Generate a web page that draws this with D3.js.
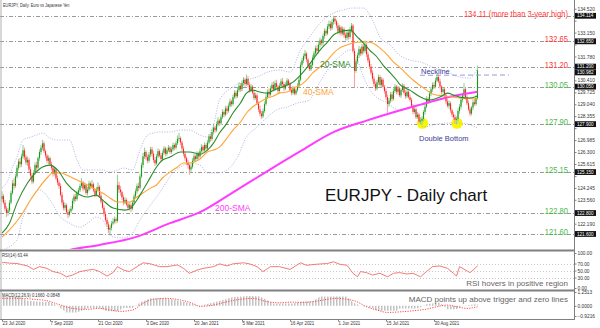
<!DOCTYPE html>
<html>
<head>
<meta charset="utf-8">
<script src="https://cdn.jsdelivr.net/npm/d3@7"></script>
<style>
body { margin: 0; background: #fff; }
svg { display: block; font-family: "Liberation Sans", Arial, sans-serif; }
</style>
</head>
<body>
<svg id="chart" width="600" height="328"></svg>
<script>
// ---- data ----
var firstOpen = 123.60;
var closes = [123.77,123.40,123.05,122.80,122.95,123.40,123.95,124.50,124.35,124.90,
125.40,125.75,125.60,126.05,126.40,126.00,125.70,125.85,125.30,124.95,
124.60,125.10,125.55,125.40,125.95,126.30,126.55,126.80,126.35,126.10,
125.80,125.95,125.60,125.40,125.05,125.30,124.80,124.55,124.35,123.85,
123.40,123.10,123.25,122.85,122.70,122.90,123.05,123.50,123.75,123.60,
123.95,124.10,124.35,124.55,124.20,124.40,123.95,124.15,124.50,124.30,
124.45,124.10,123.85,124.15,124.30,123.80,123.45,123.10,122.75,122.40,
122.15,121.85,121.95,122.20,122.30,122.45,122.35,124.40,124.15,124.00,
123.70,123.40,123.55,123.30,123.10,123.25,123.05,123.40,123.75,124.05,
124.35,124.25,124.90,125.55,126.05,126.30,126.00,125.80,126.15,126.45,
126.20,125.85,125.65,126.05,126.35,126.10,125.90,126.25,126.50,126.20,
126.40,126.55,126.30,126.45,126.70,126.55,126.80,127.05,127.10,126.85,
126.50,126.20,125.95,125.70,125.55,125.30,125.45,125.80,126.05,125.90,
126.20,126.05,126.35,126.60,126.40,126.70,126.50,126.85,127.20,127.05,
127.45,127.70,127.55,127.90,128.10,127.95,128.30,128.60,128.45,128.80,
128.65,128.95,129.20,129.05,129.45,129.70,129.50,129.85,130.10,129.90,
130.25,130.45,130.20,130.50,130.15,129.85,130.05,129.70,129.40,129.55,
129.10,128.75,128.50,128.35,128.65,129.05,129.45,129.75,129.60,129.95,
130.15,129.90,130.25,130.05,129.80,130.10,130.35,130.20,129.95,130.15,
130.40,130.20,129.85,129.70,129.95,129.65,129.85,130.10,130.45,131.30,
131.55,131.80,131.95,131.60,131.25,131.05,131.30,131.70,131.95,132.25,
132.10,132.45,132.70,132.55,132.95,133.25,133.10,133.50,133.65,133.40,
133.75,133.95,133.80,133.55,133.20,133.45,133.10,133.35,133.00,132.85,
133.15,132.90,133.30,133.55,132.10,130.95,131.50,131.85,132.20,131.95,
132.35,132.10,132.45,131.90,131.55,131.20,130.85,130.50,130.20,129.95,
130.30,130.60,130.15,130.45,130.05,129.80,129.45,129.05,129.25,129.60,
129.35,129.80,130.05,129.75,129.95,129.55,129.85,130.10,129.70,129.50,
129.75,129.45,129.30,128.95,128.60,128.75,128.30,128.45,128.05,128.10,
128.20,128.60,128.90,129.35,129.20,129.65,129.90,130.15,130.05,130.40,
130.60,130.35,130.05,129.75,129.90,129.55,129.20,128.95,129.10,128.70,
128.45,128.30,128.15,128.20,128.65,128.90,129.30,129.55,129.90,129.45,
129.10,128.75,128.50,128.85,129.15,129.05,129.40,130.98];
var highs = [124.05,123.90,123.55,123.20,123.10,123.55,124.10,124.70,124.80,125.05,
125.55,125.90,125.95,126.20,126.70,126.55,126.15,126.05,125.95,125.45,
125.10,125.25,125.70,125.75,126.05,126.45,126.70,127.00,126.90,126.45,
126.20,126.10,126.05,125.75,125.55,125.45,125.40,124.95,124.70,124.50,
124.00,123.55,123.40,123.35,123.00,123.05,123.20,123.65,123.90,123.90,
124.05,124.25,124.50,124.80,124.65,124.55,124.50,124.30,124.65,124.60,
124.70,124.55,124.20,124.30,124.55,124.40,123.95,123.60,123.25,122.90,
122.55,122.30,122.10,122.35,122.50,122.60,122.55,125.00,124.60,124.35,
124.10,123.85,123.70,123.65,123.45,123.40,123.35,123.50,123.90,124.20,
124.50,124.55,125.05,125.70,126.25,126.55,126.40,126.15,126.30,126.60,
126.60,126.35,126.00,126.20,126.50,126.45,126.25,126.40,126.65,126.60,
126.55,126.70,126.65,126.60,126.85,126.80,126.95,127.25,127.40,127.20,
126.95,126.65,126.35,126.05,125.85,125.65,125.60,125.95,126.20,126.15,
126.35,126.30,126.50,126.75,126.70,126.85,126.80,127.00,127.35,127.35,
127.60,127.85,127.80,128.05,128.30,128.20,128.45,128.75,128.70,128.95,
128.95,129.10,129.35,129.30,129.60,129.85,129.80,130.00,130.30,130.25,
130.40,130.60,130.55,130.75,130.65,130.30,130.20,130.15,129.85,129.70,
129.65,129.20,128.95,128.65,128.80,129.20,129.60,129.90,129.95,130.10,
130.30,130.35,130.40,130.45,130.15,130.25,130.50,130.55,130.30,130.30,
130.55,130.50,130.30,129.95,130.10,130.05,129.95,130.25,130.60,131.45,
131.70,131.95,132.15,132.05,131.70,131.40,131.45,131.85,132.10,132.40,
132.45,132.60,132.85,132.80,133.10,133.40,133.35,133.65,133.85,133.80,
133.90,134.11,134.05,133.90,133.70,133.60,133.55,133.50,133.45,133.15,
133.30,133.25,133.45,133.70,133.65,132.25,131.65,132.00,132.40,132.30,
132.50,132.50,132.70,132.55,132.05,131.70,131.35,131.00,130.65,130.35,
130.45,130.75,130.70,130.60,130.55,130.15,129.95,129.60,129.40,129.75,
129.75,129.95,130.20,130.15,130.10,130.05,129.95,130.25,130.20,129.85,
129.90,129.85,129.60,129.40,129.05,128.90,128.85,128.60,128.55,128.30,
128.35,128.70,129.05,129.50,129.45,129.80,130.05,130.30,130.30,130.55,
130.80,130.75,130.50,130.15,130.05,130.00,129.65,129.35,129.25,129.20,
128.80,128.60,128.45,128.35,128.80,129.05,129.40,129.70,130.25,130.00,
129.55,129.25,128.90,128.95,129.30,129.35,129.55,131.25];
var lows = [123.45,123.30,122.90,122.57,122.65,122.85,123.30,123.85,124.15,124.25,
124.80,125.25,125.40,125.45,125.90,125.85,125.55,125.50,125.15,124.80,
124.45,124.50,125.00,125.20,125.30,125.80,126.15,126.40,126.25,125.95,
125.65,125.60,125.50,125.25,124.90,124.95,124.70,124.40,124.20,123.75,
123.25,122.95,122.95,122.75,122.50,122.60,122.80,122.95,123.35,123.45,
123.50,123.80,124.00,124.25,124.05,124.10,123.85,123.80,124.05,124.15,
124.20,124.00,123.70,123.75,124.05,123.70,123.35,123.00,122.60,122.30,
122.00,121.65,121.60,121.80,122.10,122.20,122.20,122.25,123.95,123.80,
123.55,123.25,123.30,123.20,122.95,122.95,122.85,122.95,123.30,123.65,
123.90,124.05,124.15,124.80,125.40,125.90,125.85,125.65,125.70,126.00,
126.05,125.70,125.50,125.55,125.95,126.00,125.75,125.80,126.15,126.05,
126.10,126.30,126.20,126.20,126.35,126.40,126.45,126.70,126.90,126.70,
126.35,126.05,125.80,125.55,125.35,125.00,125.15,125.35,125.70,125.75,
125.80,125.90,125.95,126.25,126.25,126.30,126.35,126.40,126.75,126.90,
126.95,127.30,127.40,127.45,127.75,127.80,127.85,128.20,128.30,128.35,
128.45,128.55,128.85,128.90,128.95,129.35,129.35,129.40,129.75,129.75,
129.80,130.10,130.05,130.10,130.05,129.70,129.75,129.60,129.25,129.30,
129.00,128.60,128.35,128.20,128.25,128.55,128.95,129.35,129.45,129.50,
129.80,129.75,129.80,129.95,129.65,129.70,130.00,130.05,129.80,129.85,
130.05,130.10,129.75,129.55,129.60,129.55,129.55,129.75,130.00,130.35,
131.15,131.40,131.65,131.45,131.10,130.95,130.95,131.20,131.55,131.85,
131.95,131.95,132.30,132.40,132.40,132.80,132.95,133.00,133.35,133.25,
133.30,133.60,133.65,133.40,133.05,133.05,132.95,133.00,132.85,132.70,
132.70,132.75,132.80,133.15,132.00,130.00,130.85,131.35,131.70,131.80,
131.85,131.95,132.00,131.75,131.40,131.05,130.70,130.35,130.05,129.80,
129.85,130.15,130.05,130.00,129.95,129.65,129.30,128.55,128.90,129.10,
129.20,129.25,129.70,129.60,129.60,129.45,129.40,129.75,129.60,129.35,
129.40,129.35,129.20,128.85,128.45,128.50,128.20,128.20,127.95,127.90,
127.88,128.05,128.45,128.80,129.05,129.10,129.50,129.75,129.90,129.95,
130.30,130.25,129.95,129.60,129.65,129.45,129.05,128.85,128.80,128.55,
128.30,128.15,127.95,127.88,128.05,128.50,128.75,129.15,129.40,129.30,
129.00,128.65,128.35,128.40,128.70,128.95,128.95,129.30];

var sma20Bars = [0,5,10,17,21,27,32,37,43,50,57,63,67,74,82,85,90,94,99,103,107,112,119,125,132,137,141,145,150,154,159,163,167,172,177,181,185,190,194,199,203,207,212,217,221,225,232,237,241,245,250,254,259,263,265,272,279,285,292,297,301,305,312,317];
var sma20Vals = [121.65,122.22,123.37,124.52,124.98,125.44,125.55,125.27,124.52,123.95,123.72,123.83,123.55,123.09,122.97,123.03,123.55,124.12,124.86,125.44,125.84,126.01,126.30,126.30,126.18,126.41,126.81,127.39,127.96,128.54,129.11,129.68,129.85,129.74,129.68,129.85,129.97,130.14,130.31,130.71,131.11,131.57,132.15,132.61,133.01,133.18,133.29,132.89,132.55,132.15,131.75,131.29,130.83,130.43,130.20,129.85,129.45,129.28,129.45,129.68,129.57,129.45,129.40,129.51];
var sma40Bars = [0,5,12,19,25,30,34,39,43,50,57,63,67,72,77,81,85,90,94,99,103,107,112,117,121,125,132,137,141,145,150,154,159,163,167,172,177,181,185,190,194,199,203,207,212,217,221,225,230,234,239,243,247,252,257,261,265,274,283,287,295,305,317];
var sma40Vals = [121.42,121.83,122.57,123.55,124.29,124.81,125.10,125.10,124.98,124.69,124.41,124.12,123.95,123.66,123.43,123.43,123.43,123.72,123.95,124.23,124.41,124.81,125.15,125.44,125.67,125.67,125.90,126.30,126.41,126.58,127.10,127.56,128.02,128.54,128.88,129.17,129.40,129.51,129.68,129.74,129.97,130.14,130.43,130.83,131.17,131.57,131.97,132.26,132.44,132.55,132.61,132.61,132.55,132.26,131.86,131.46,131.17,130.43,129.85,129.63,129.51,129.40,129.34];
var sma200Bars = [39,45,65,89,112,132,154,177,199,221,243,265,279,292,305,317];
var sma200Vals = [120.56,120.68,120.97,121.42,122.22,122.85,123.99,125.21,126.35,127.44,128.10,128.68,129.02,129.33,129.58,129.76];
var bbUpBars = [0,4,7,10,12,14,19,23,27,32,37,41,45,50,54,61,67,72,77,81,87,92,97,101,105,112,119,125,132,137,141,145,154,163,170,177,185,192,199,205,214,221,227,234,241,247,252,259,265,272,279,287,297,305,312,317];
var bbUpVals = [124.23,124.69,125.44,126.01,126.58,126.99,127.16,127.27,127.39,127.10,126.99,126.99,126.99,125.84,125.27,125.27,125.27,125.15,125.27,125.38,125.27,126.41,127.27,127.39,127.45,127.45,127.56,127.56,127.27,127.16,127.85,129.28,130.03,130.43,130.60,130.89,131.00,130.89,132.15,132.89,133.87,134.27,134.44,134.56,134.56,133.87,132.89,132.43,131.86,131.57,131.46,131.17,130.89,130.60,130.54,131.11];
var bbLoBars = [0,10,14,19,25,32,39,45,52,57,63,67,74,81,87,92,99,105,114,119,125,132,137,143,150,157,163,170,177,183,190,197,205,210,217,225,232,237,241,247,257,265,274,281,287,297,307,317];
var bbLoVals = [120.68,121.25,122.57,123.55,124.12,123.55,122.57,122.22,121.99,122.22,122.57,122.40,121.42,121.37,121.65,122.40,123.26,123.95,125.10,125.44,125.67,125.55,125.10,125.10,125.27,126.01,127.16,127.73,128.31,128.71,128.88,129.11,129.28,130.03,131.00,131.75,132.15,131.57,130.60,129.68,129.11,128.71,128.88,127.73,127.85,127.96,127.96,127.68];

var rsiBars = [0,1,5,10,12,17,21,25,30,34,39,43,47,52,57,61,65,70,74,77,81,85,90,94,99,105,110,117,121,125,130,134,141,145,150,154,161,165,170,174,179,185,192,199,203,210,217,221,225,230,234,237,239,243,247,252,257,261,265,270,274,279,283,287,292,297,301,303,305,310,312,314,317];
var rsiVals = [72,73,71,70,68,63,53,61,56,47,42,32,37,47,51,53,47,34,44,61,51,47,61,72,69,61,61,66,56,42,51,56,61,69,63,69,72,69,61,47,61,61,53,72,65,68,70,75,68,65,42,32,47,44,37,42,32,42,44,40,42,32,47,61,63,56,42,34,61,49,44,51,63.44];
var macdBars = [0,12,17,25,32,37,41,43,50,57,65,70,77,81,87,92,99,110,121,132,143,154,165,172,181,194,199,207,212,230,234,239,247,250,263,265,277,283,292,297,303,307,317];
var macdVals = [0.82,0.80,0.45,0.37,0.35,0.00,-0.40,-0.60,-0.60,-0.23,-0.20,-0.50,-0.50,-0.20,-0.20,0.30,0.68,0.68,0.37,0.00,0.37,0.80,0.90,0.85,0.20,0.20,0.40,0.40,0.85,0.85,0.30,0.00,-0.20,-0.45,-0.45,-0.25,-0.25,0.15,0.30,-0.30,-0.30,0.00,0.166];
var sigBars = [0,12,21,30,39,47,57,65,72,79,87,94,101,110,119,127,132,141,150,159,167,177,185,194,199,210,217,223,230,236,243,250,257,265,274,283,290,297,303,310,317];
var sigVals = [0.68,0.68,0.59,0.46,0.07,-0.23,-0.32,-0.23,-0.38,-0.50,-0.38,0.23,0.59,0.68,0.52,0.23,-0.05,0.07,0.37,0.59,0.68,0.37,0.28,0.34,0.30,0.43,0.59,0.68,0.59,0.40,-0.08,-0.38,-0.60,-0.55,-0.45,-0.30,-0.08,0.07,-0.08,-0.23,-0.085];

var levels = [134.11, 132.65, 131.20, 130.05, 127.90, 125.15, 122.80, 121.60];
var levelText = ["134.11 (more than 3-year high)", "132.65", "131.20", "130.05", "127.90", "125.15", "122.80", "121.60"];
var priceTicks = [134.520,133.835,133.150,132.465,131.780,131.095,130.410,129.725,129.040,128.355,127.670,126.985,126.300,125.615,124.930,124.245,123.560,122.875,122.190,121.505];
var boxValues = [134.114,132.650,131.200,130.982,130.050,127.900,125.150,122.800,121.600];
var rsiTicks = [100, 70, 50, 30, 0];
var macdTicks = [1.2513, 0, -0.9216];
var dateBars = [0,32,64,96,128,160,192,224,256,288];
var dateLabels = ["23 Jul 2020","7 Sep 2020","21 Oct 2020","3 Dec 2020","20 Jan 2021","5 Mar 2021","16 Apr 2021","1 Jun 2021","15 Jul 2021","30 Aug 2021"];
var bottomBars = [280, 303];

// ---- setup ----
var plotRight = 574;
var svg = d3.select("#chart");

var x = d3.scaleLinear().domain([0, 317]).range([2, 477.5]);
var y = d3.scaleLinear().domain([120.68, 135.02]).range([250, 0]);
var yRsi = d3.scaleLinear().domain([0, 100]).range([288, 253]);
var yMacd = d3.scaleLinear().domain([-0.9216, 1.2513]).range([316, 292]);

var defs = svg.append("defs");
defs.append("clipPath").attr("id", "clipMain").append("rect")
	.attr("x", 0).attr("y", 0).attr("width", plotRight).attr("height", 249);
defs.append("clipPath").attr("id", "clipRsi").append("rect")
	.attr("x", 0).attr("y", 251).attr("width", plotRight).attr("height", 38);
defs.append("clipPath").attr("id", "clipMacd").append("rect")
	.attr("x", 0).attr("y", 291).attr("width", plotRight).attr("height", 27);
var hatch = defs.append("pattern").attr("id", "hatch")
	.attr("patternUnits", "userSpaceOnUse").attr("width", 3).attr("height", 4);
hatch.append("rect").attr("width", 1.5).attr("height", 4).attr("fill", "#c2c2c2");

function pairs(bars, vals) {
	return bars.map(function(b, i) { return [b, vals[i]]; });
}

function squeezed(g, txt, px, py, size, sx, anchor, color) {
	return g.append("text")
		.attr("transform", "translate(" + px + "," + py + ") scale(" + sx + ",1)")
		.attr("font-size", size)
		.attr("text-anchor", anchor)
		.attr("fill", color)
		.text(txt);
}

var main = svg.append("g");

// horizontal levels
main.selectAll(".level")
	.data(levels)
	.enter().append("line")
		.attr("x1", 0).attr("x2", plotRight)
		.attr("y1", function(d) { return Math.round(y(d)) + 0.5; })
		.attr("y2", function(d) { return Math.round(y(d)) + 0.5; })
		.attr("stroke", "#9a9a9a")
		.attr("stroke-dasharray", "4,2,1,2");

// double bottom marks
main.selectAll(".bottom")
	.data(bottomBars)
	.enter().append("circle")
		.attr("cx", function(d) { return x(d) + 0.5; })
		.attr("cy", y(127.95))
		.attr("r", 5.6)
		.attr("fill", "#f7f700");

var plot = main.append("g").attr("clip-path", "url(#clipMain)");

// bollinger bands
[pairs(bbUpBars, bbUpVals), pairs(bbLoBars, bbLoVals)].forEach(function(band) {
	plot.append("path")
		.datum(band)
		.attr("fill", "none")
		.attr("stroke", "#a9a9e2")
		.attr("stroke-width", 0.9)
		.attr("stroke-dasharray", "1,1.5")
		.attr("d", d3.line().x(function(d) { return x(d[0]); }).y(function(d) { return y(d[1]); }).curve(d3.curveMonotoneX));
});

// candles
var bars = closes.map(function(c, i) {
	return { i: i, o: i === 0 ? firstOpen : closes[i - 1], h: highs[i], l: lows[i], c: c };
});
plot.selectAll(".wick")
	.data(bars)
	.enter().append("line")
		.attr("x1", function(d) { return x(d.i); })
		.attr("x2", function(d) { return x(d.i); })
		.attr("y1", function(d) { return y(d.h); })
		.attr("y2", function(d) { return y(d.l); })
		.attr("stroke", function(d) { return d.c >= d.o ? "#96d096" : "#f6a3a3"; })
		.attr("stroke-width", 1.1);
plot.selectAll(".body")
	.data(bars)
	.enter().append("rect")
		.attr("x", function(d) { return x(d.i) - 0.55; })
		.attr("width", 1.1)
		.attr("y", function(d) { return y(Math.max(d.o, d.c)); })
		.attr("height", function(d) { return Math.max(1, Math.abs(y(d.o) - y(d.c))); })
		.attr("fill", function(d) { return d.c >= d.o ? "#189a18" : "#ff2424"; });

// moving averages
var maLine = d3.line().x(function(d) { return x(d[0]); }).y(function(d) { return y(d[1]); }).curve(d3.curveMonotoneX);
plot.append("path").datum(pairs(sma200Bars, sma200Vals))
	.attr("fill", "none").attr("stroke", "#ff3cff").attr("stroke-width", 2).attr("d", maLine);
plot.append("path").datum(pairs(sma40Bars, sma40Vals))
	.attr("fill", "none").attr("stroke", "#ffa433").attr("stroke-width", 1.1).attr("d", maLine);
plot.append("path").datum(pairs(sma20Bars, sma20Vals))
	.attr("fill", "none").attr("stroke", "#2b8c2b").attr("stroke-width", 1.1).attr("d", maLine);

// neckline
main.append("line")
	.attr("x1", 420).attr("x2", 509)
	.attr("y1", y(130.70)).attr("y2", y(130.72))
	.attr("stroke", "#9c9cd6").attr("stroke-dasharray", "5,3");

// level labels
levels.forEach(function(v, i) {
	squeezed(main, levelText[i], 568, Math.round(y(v)) + 0.5, 9.5, 0.8, "end", i < 3 ? "#ff3838" : "#4cb84c");
});

// annotations
main.append("text").attr("x", 421).attr("y", 74).attr("font-size", 7.5).attr("fill", "#3d3d99").text("Neckline");
main.append("text").attr("x", 419).attr("y", 140.5).attr("font-size", 7.5).attr("fill", "#3d3d99").text("Double Bottom");
main.append("text").attr("x", 320).attr("y", 67).attr("font-size", 8.5).attr("fill", "#2b8c2b").text("20-SMA");
main.append("text").attr("x", 303).attr("y", 95).attr("font-size", 8.5).attr("fill", "#ffa433").text("40-SMA");
main.append("text").attr("x", 215).attr("y", 211).attr("font-size", 8.5).attr("fill", "#ff3cff").text("200-SMA");
main.append("text").attr("x", 325).attr("y", 201).attr("font-size", 17).attr("fill", "#111").text("EURJPY - Daily chart");
squeezed(main, "EURJPY, Daily:  Euro vs Japanese Yen", 3, 6.5, 5.2, 0.75, "start", "#333");

// ---- RSI panel ----
var rsiG = svg.append("g");
rsiG.selectAll(".rgrid")
	.data([70, 50, 30])
	.enter().append("line")
		.attr("x1", 0).attr("x2", plotRight)
		.attr("y1", function(d) { return Math.round(yRsi(d)) + 0.5; })
		.attr("y2", function(d) { return Math.round(yRsi(d)) + 0.5; })
		.attr("stroke", "#c8c8c8").attr("stroke-dasharray", "1,2");
rsiG.append("path").datum(pairs(rsiBars, rsiVals))
	.attr("clip-path", "url(#clipRsi)")
	.attr("fill", "none").attr("stroke", "#f47a7a").attr("stroke-width", 1)
	.attr("d", d3.line().x(function(d) { return x(d[0]); }).y(function(d) { return yRsi(d[1]); }));
squeezed(rsiG, "RSI(14) 63.44", 2, 256.5, 5.2, 0.8, "start", "#333");
rsiG.append("text").attr("x", 568).attr("y", 285.5).attr("font-size", 8).attr("text-anchor", "end").attr("fill", "#666").text("RSI hovers in positive region");

// ---- MACD panel ----
var macdG = svg.append("g").attr("clip-path", "url(#clipMacd)");
macdG.append("path").datum(pairs(macdBars, macdVals))
	.attr("fill", "url(#hatch)")
	.attr("d", d3.area().x(function(d) { return x(d[0]); }).y0(yMacd(0)).y1(function(d) { return yMacd(d[1]); }));
macdG.append("path").datum(pairs(sigBars, sigVals))
	.attr("fill", "none").attr("stroke", "#ff4a4a").attr("stroke-width", 1)
	.attr("stroke-dasharray", "1.2,1.3")
	.attr("d", d3.line().x(function(d) { return x(d[0]); }).y(function(d) { return yMacd(d[1]); }).curve(d3.curveMonotoneX));
squeezed(svg, "MACD(12,26,9) 0.1660 -0.0848", 2, 296.5, 5.2, 0.8, "start", "#333");
svg.append("text").attr("x", 568).attr("y", 301.5).attr("font-size", 8).attr("text-anchor", "end").attr("fill", "#666").text("MACD points up above trigger and zero lines");

// ---- frame ----
var frame = svg.append("g").attr("stroke", "#808080");
frame.append("line").attr("x1", 1).attr("x2", 1).attr("y1", 0).attr("y2", 319).attr("stroke", "#b0b0b0");
frame.append("line").attr("x1", 0).attr("x2", plotRight).attr("y1", 250.5).attr("y2", 250.5).attr("stroke-width", 2);
frame.append("line").attr("x1", 0).attr("x2", plotRight).attr("y1", 290.5).attr("y2", 290.5).attr("stroke-width", 2);
frame.append("line").attr("x1", 0).attr("x2", plotRight + 1).attr("y1", 319.5).attr("y2", 319.5);
frame.append("line").attr("x1", plotRight + 0.5).attr("x2", plotRight + 0.5).attr("y1", 0).attr("y2", 320);

// ---- axes ----
function styleAxis(g) {
	g.select(".domain").remove();
	g.selectAll(".tick line").attr("stroke", "#808080");
	g.selectAll(".tick text").attr("fill", "#333").attr("font-size", 4.8).attr("font-family", "Liberation Sans, Arial, sans-serif");
}

// price boxes on the axis: spread apart so neighbours do not collide
var boxY = [];
boxValues.forEach(function(v, i) {
	var py = y(v);
	if (i > 0 && py - boxY[i - 1] < 5.8) py = boxY[i - 1] + 5.8;
	boxY.push(py);
});

var priceAxis = svg.append("g").attr("transform", "translate(" + (plotRight + 0.5) + ",0)")
	.call(d3.axisRight(y).tickValues(priceTicks).tickFormat(d3.format(".3f")).tickSize(2).tickPadding(1))
	.call(styleAxis);
// tick labels that sit under a price box are hidden by it in the original
priceAxis.selectAll(".tick text").filter(function(d) {
	var ty = y(d);
	return boxY.some(function(b) { return Math.abs(b - ty) < 5.2; });
}).remove();

svg.append("g").attr("transform", "translate(" + (plotRight + 0.5) + ",0)")
	.call(d3.axisRight(yRsi).tickValues(rsiTicks).tickFormat(d3.format(".2f")).tickSize(2).tickPadding(1))
	.call(styleAxis);
svg.append("g").attr("transform", "translate(" + (plotRight + 0.5) + ",0)")
	.call(d3.axisRight(yMacd).tickValues(macdTicks).tickFormat(d3.format(".4f")).tickSize(2).tickPadding(1))
	.call(styleAxis);

var xAxis = svg.append("g").attr("transform", "translate(0,319.5)")
	.call(d3.axisBottom(x).tickValues(dateBars).tickFormat(function(d, i) { return dateLabels[i]; }).tickSize(2).tickPadding(0))
	.call(styleAxis);
xAxis.selectAll(".tick text")
	.attr("text-anchor", "start")
	.attr("font-size", 5.2)
	.attr("transform", "scale(0.85,1)");

var boxes = svg.selectAll(".pbox")
	.data(boxValues)
	.enter().append("g")
		.attr("transform", function(d, i) { return "translate(" + (plotRight + 1) + "," + boxY[i] + ")"; });
boxes.append("rect").attr("x", 0).attr("y", -2.9).attr("width", 21).attr("height", 5.8).attr("fill", "#111");
boxes.append("text").attr("x", 2).attr("y", 1.6).attr("font-size", 4.6).attr("fill", "#fff")
	.text(function(d) { return d3.format(".3f")(d); });
</script>
</body>
</html>
